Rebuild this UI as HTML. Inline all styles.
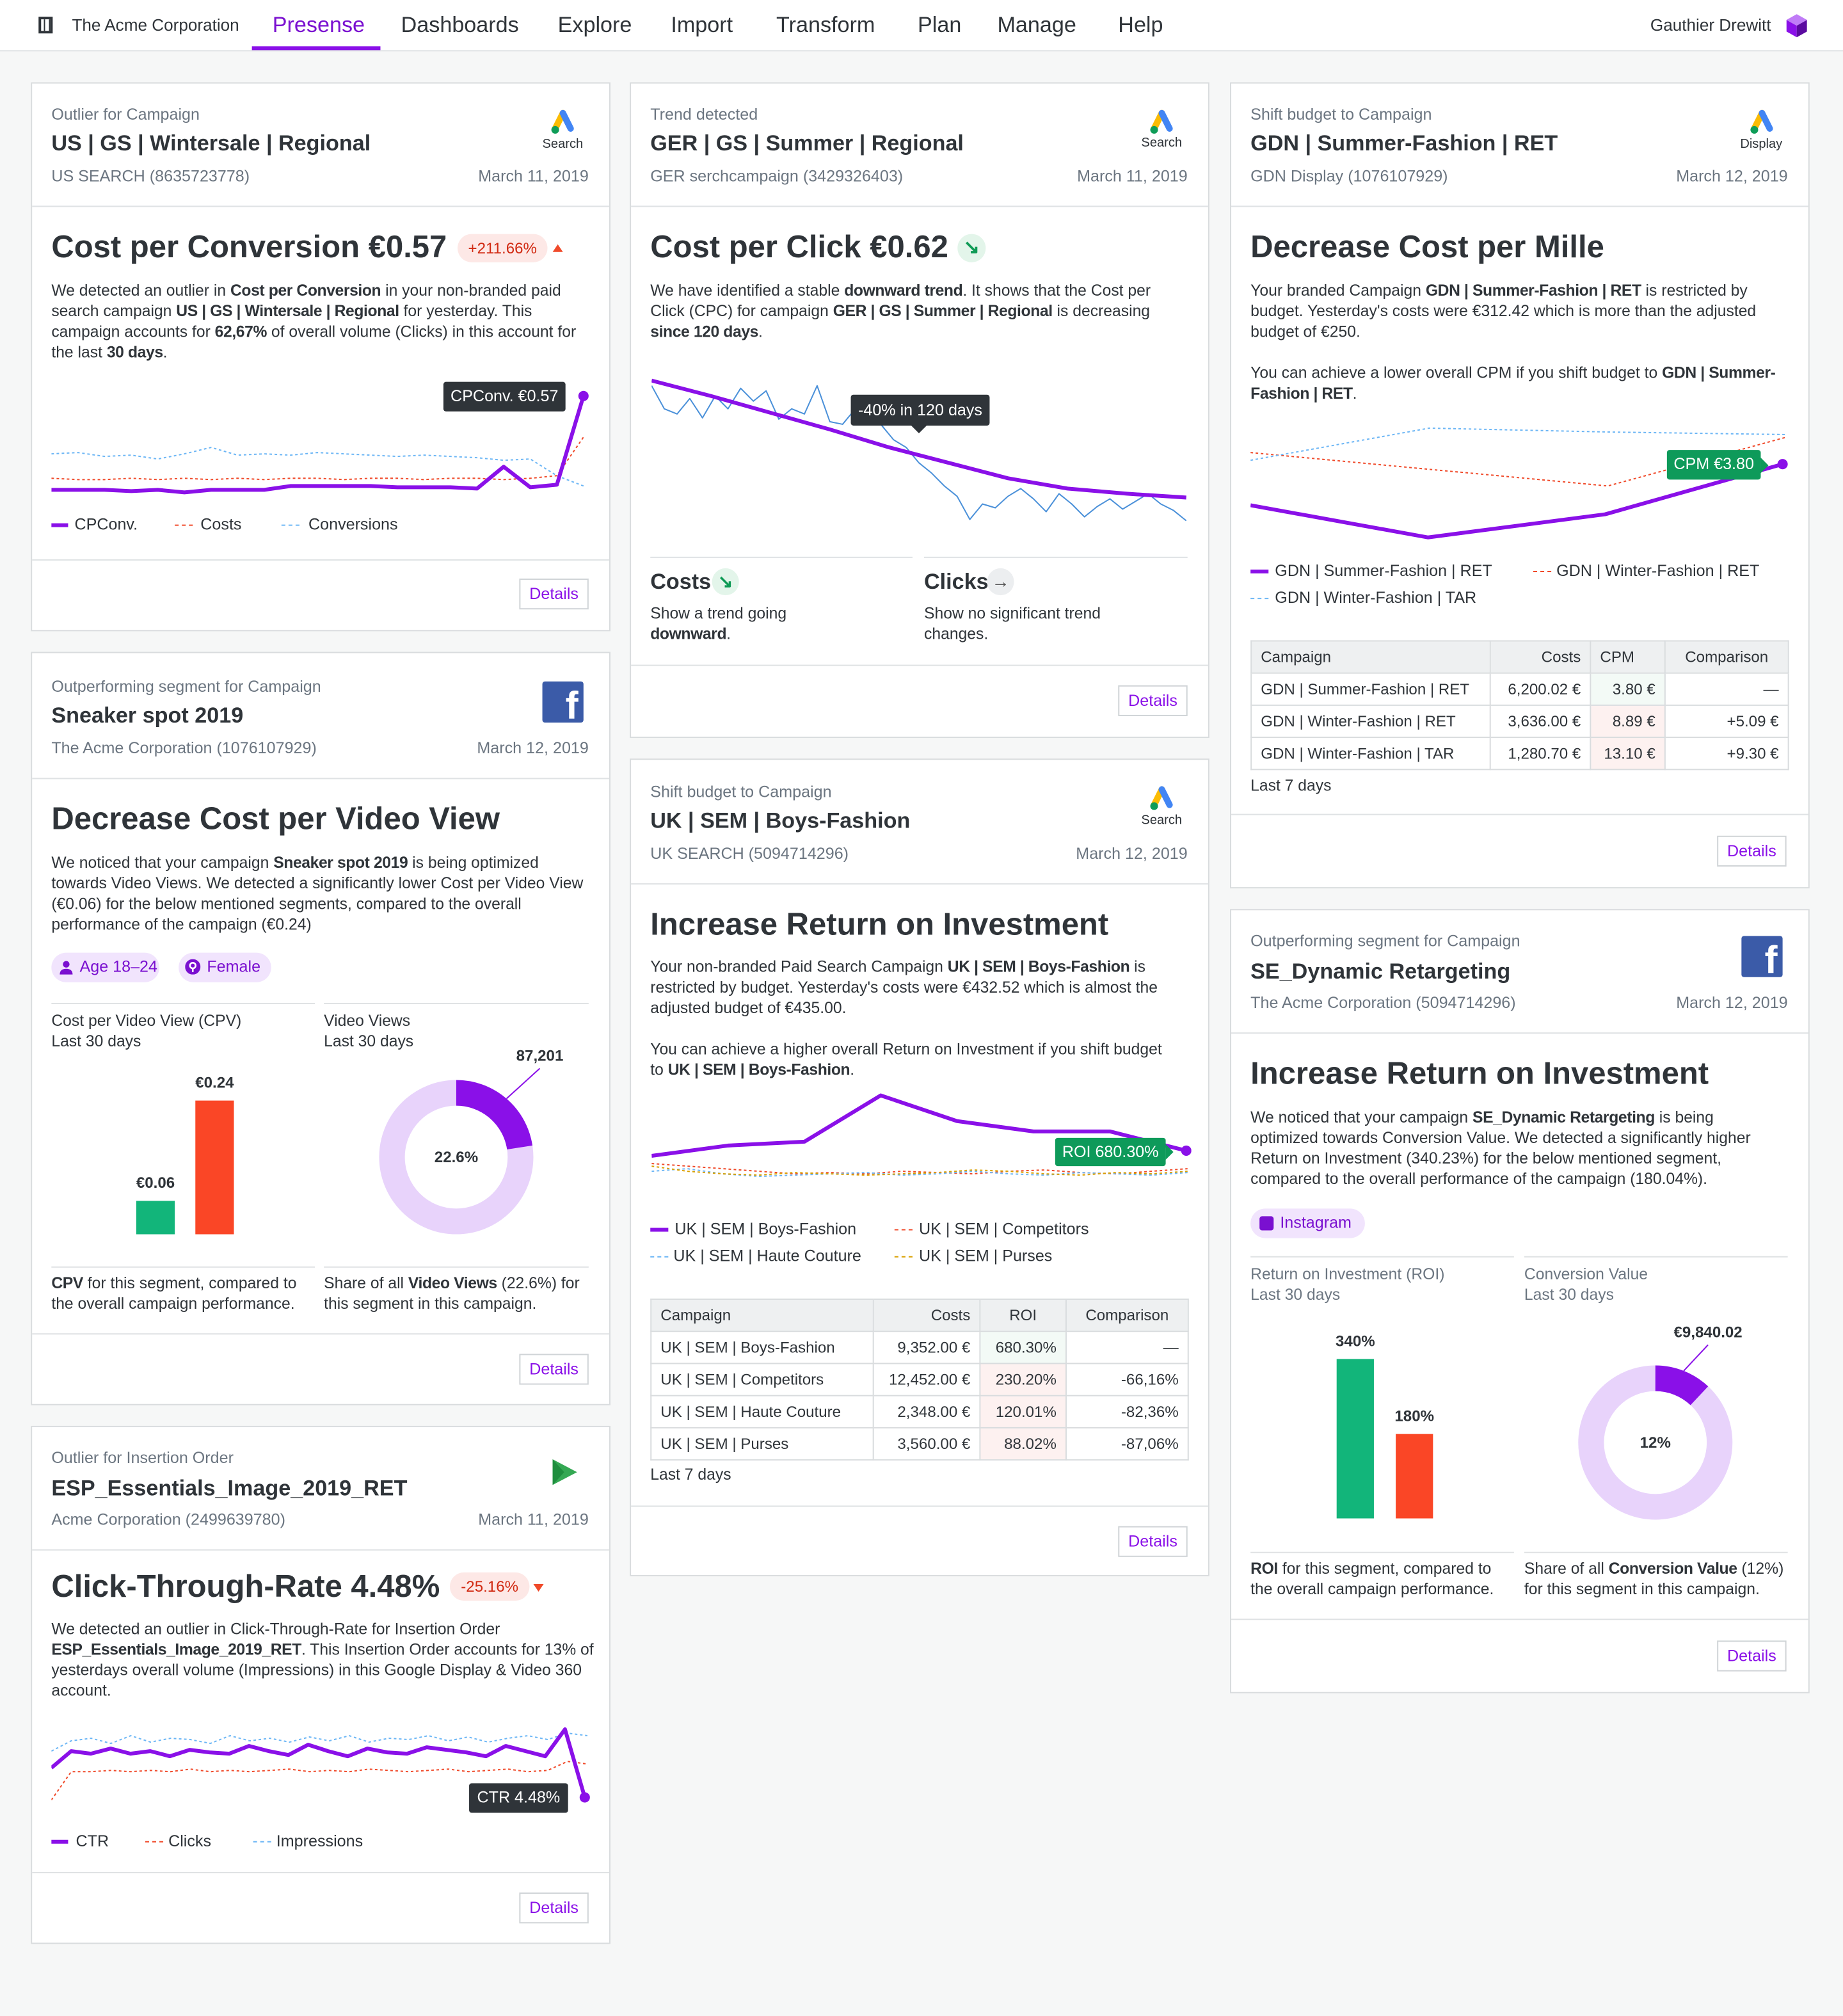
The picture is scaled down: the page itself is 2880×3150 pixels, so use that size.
<!DOCTYPE html>
<html><head><meta charset="utf-8">
<style>
html,body{margin:0;padding:0;background:#f6f7f7;overflow:hidden;width:2880px;height:3150px}
#page{position:absolute;left:0;top:0;width:1434px;height:1568px;transform:scale(2.00837,2.0089);transform-origin:0 0;font-family:"Liberation Sans",sans-serif;color:#2f3439}
#page div,#page span.a{position:absolute;white-space:nowrap}
.card{background:#fff;border:1px solid #d9dcde;box-sizing:border-box}
.hr{height:1px;background:#dfe2e4}
.lbl{font-size:12.5px;color:#6b7580;line-height:16px}
.ttl{font-size:17px;font-weight:bold;color:#2f3439;line-height:20px}
.sub{font-size:12.5px;color:#6b7580;line-height:16px}
.big{font-size:24.4px;font-weight:bold;color:#2f3439;line-height:30px}
.p{font-size:12.3px;color:#2f3439;line-height:16px}
.p b{letter-spacing:-0.2px}
.det{border:1px solid #d0d4d7;color:#8a10e8;font-size:12.5px;line-height:22px;width:54px;text-align:center;box-sizing:border-box;height:24px;background:#fff}
.nav{font-size:17px;line-height:20px;color:#2f3439}
.leg{font-size:12.5px;line-height:16px;color:#2f3439}
.chip{background:#f1e4fd;color:#7a10d0;font-size:12.5px;line-height:23px;height:23px;border-radius:12px;box-sizing:border-box;padding-left:22px}
table{border-collapse:collapse;font-size:12px;color:#2f3439;table-layout:fixed}
td{border:1px solid #d9dcde;height:25px;padding:0 7px;box-sizing:border-box;white-space:nowrap;overflow:hidden}
.hd td{background:#eef0f1}
.r{text-align:right}
.pink{background:#fdf1f0}
.mint{background:#f3faf6}
.badge{background:#fde8e6;color:#d12a12;font-size:12px;line-height:22px;height:22px;border-radius:11px;text-align:center}
</style></head><body>
<div id="page">

<!-- NAV -->
<div style="left:0;top:0;width:1434px;height:39px;background:#fff;border-bottom:1px solid #dfe2e4"></div>
<div style="left:30px;top:13px;width:11px;height:13px;border:2px solid #2f3439;box-sizing:border-box;background:repeating-linear-gradient(90deg,#fff 0 2px,#2f3439 2px 3px,#fff 3px 4px)"></div>
<div class="leg" style="left:56px;top:12px;font-size:13px">The Acme Corporation</div>
<div class="nav" style="left:212px;top:10px;color:#7a10d0">Presense</div>
<div style="left:196px;top:36px;width:100px;height:3px;background:#8a10e8"></div>
<div class="nav" style="left:312px;top:10px">Dashboards</div>
<div class="nav" style="left:434px;top:10px">Explore</div>
<div class="nav" style="left:522px;top:10px">Import</div>
<div class="nav" style="left:604px;top:10px">Transform</div>
<div class="nav" style="left:714px;top:10px">Plan</div>
<div class="nav" style="left:776px;top:10px">Manage</div>
<div class="nav" style="left:870px;top:10px">Help</div>
<div class="leg" style="right:56px;top:12px;font-size:13px">Gauthier Drewitt</div>
<svg style="position:absolute;left:1390px;top:11px" width="16" height="18" viewBox="0 0 16 18"><polygon points="8,0 16,4.5 8,9 0,4.5" fill="#c07cf7"/><polygon points="0,4.5 8,9 8,18 0,13.5" fill="#8a10e8"/><polygon points="16,4.5 8,9 8,18 16,13.5" fill="#5b0aa0"/></svg>

<!-- ===== CARD 1 col1 ===== -->
<div class="card" style="left:24px;top:64px;width:451px;height:427px"></div>
<div class="lbl" style="left:40px;top:81px">Outlier for Campaign</div>
<div class="ttl" style="left:40px;top:102px">US | GS | Wintersale | Regional</div>
<div class="sub" style="left:40px;top:129px">US SEARCH (8635723778)</div>
<div class="sub" style="right:976px;top:129px">March 11, 2019</div>
<svg style="position:absolute;left:428px;top:85px" width="20" height="20" viewBox="0 0 20 20"><line x1="10" y1="3" x2="4" y2="15" stroke="#fbbc04" stroke-width="5" stroke-linecap="round"/><line x1="10" y1="3" x2="16" y2="15" stroke="#4285f4" stroke-width="5" stroke-linecap="round"/><circle cx="4" cy="16" r="3" fill="#0f9d58"/></svg>
<div class="leg" style="left:422px;top:105px;font-size:10px">Search</div>
<div class="hr" style="left:25px;top:160px;width:449px"></div>
<div class="big" style="left:40px;top:178px">Cost per Conversion €0.57</div>
<div class="badge" style="left:356px;top:182px;width:70px">+211.66%</div>
<div style="left:430px;top:190px;width:0;height:0;border-left:4px solid transparent;border-right:4px solid transparent;border-bottom:6px solid #f04a2a"></div>
<div class="p" style="left:40px;top:218px">We detected an outlier in <b>Cost per Conversion</b> in your non-branded paid<br>search campaign <b>US | GS | Wintersale | Regional</b> for yesterday. This<br>campaign accounts for <b>62,67%</b> of overall volume (Clicks) in this account for<br>the last <b>30 days</b>.</div>
<svg id="chartA" style="position:absolute;left:40px;top:290px" width="420" height="100"></svg>
<div style="left:345px;top:297px;width:95px;height:23px;background:#2f3439;color:#fff;font-size:12.5px;line-height:23px;text-align:center;border-radius:2px">CPConv. €0.57</div>
<div style="left:40px;top:407px;width:13px;height:3px;background:#8a10e8"></div>
<div class="leg" style="left:58px;top:400px">CPConv.</div>
<div style="left:136px;top:408px;width:14px;border-top:1px dashed #f04a2a"></div>
<div class="leg" style="left:156px;top:400px">Costs</div>
<div style="left:219px;top:408px;width:14px;border-top:1px dashed #6cb6f5"></div>
<div class="leg" style="left:240px;top:400px">Conversions</div>
<div class="hr" style="left:25px;top:435px;width:449px"></div>
<div class="det" style="left:404px;top:450px">Details</div>

<!-- ===== CARD 2 col1 ===== -->
<div class="card" style="left:24px;top:507px;width:451px;height:586px"></div>
<div class="lbl" style="left:40px;top:526px">Outperforming segment for Campaign</div>
<div class="ttl" style="left:40px;top:547px">Sneaker spot 2019</div>
<div class="sub" style="left:40px;top:574px">The Acme Corporation (1076107929)</div>
<div class="sub" style="right:976px;top:574px">March 12, 2019</div>
<div style="left:422px;top:530px;width:32px;height:32px;background:#3b5ba8;border-radius:2px;color:#fff;font-weight:bold;font-size:30px;line-height:40px;text-align:right;overflow:hidden"><span style="margin-right:4px">f</span></div>
<div class="hr" style="left:25px;top:605px;width:449px"></div>
<div class="big" style="left:40px;top:623px">Decrease Cost per Video View</div>
<div class="p" style="left:40px;top:663px">We noticed that your campaign <b>Sneaker spot 2019</b> is being optimized<br>towards Video Views. We detected a significantly lower Cost per Video View<br>(€0.06) for the below mentioned segments, compared to the overall<br>performance of the campaign (€0.24)</div>
<div class="chip" style="left:40px;top:741px;width:84px">Age 18–24</div>
<svg style="position:absolute;left:46px;top:747px" width="11" height="11" viewBox="0 0 11 11"><circle cx="5.5" cy="3" r="2.6" fill="#7a10d0"/><path d="M0.5 11 Q0.5 6.5 5.5 6.5 Q10.5 6.5 10.5 11Z" fill="#7a10d0"/></svg>
<div class="chip" style="left:139px;top:741px;width:72px">Female</div>
<svg style="position:absolute;left:144px;top:746px" width="12" height="12" viewBox="0 0 12 12"><circle cx="6" cy="6" r="6" fill="#7a10d0"/><circle cx="6" cy="5" r="2.2" fill="none" stroke="#fff" stroke-width="1.3"/><line x1="6" y1="7" x2="6" y2="10" stroke="#fff" stroke-width="1.3"/></svg>
<div class="hr" style="left:40px;top:780px;width:205px"></div>
<div class="hr" style="left:252px;top:780px;width:206px"></div>
<div class="p" style="left:40px;top:786px">Cost per Video View (CPV)<br>Last 30 days</div>
<div class="p" style="left:252px;top:786px">Video Views<br>Last 30 days</div>
<svg id="barsA" style="position:absolute;left:40px;top:830px" width="205" height="135"></svg>
<svg id="donutA" style="position:absolute;left:252px;top:805px" width="206" height="175"></svg>
<div class="hr" style="left:40px;top:985px;width:205px"></div>
<div class="hr" style="left:252px;top:985px;width:206px"></div>
<div class="p" style="left:40px;top:990px"><b>CPV</b> for this segment, compared to<br>the overall campaign performance.</div>
<div class="p" style="left:252px;top:990px">Share of all <b>Video Views</b> (22.6%) for<br>this segment in this campaign.</div>
<div class="hr" style="left:25px;top:1037px;width:449px"></div>
<div class="det" style="left:404px;top:1053px">Details</div>

<!-- ===== CARD 3 col1 ===== -->
<div class="card" style="left:24px;top:1109px;width:451px;height:403px"></div>
<div class="lbl" style="left:40px;top:1126px">Outlier for Insertion Order</div>
<div class="ttl" style="left:40px;top:1148px">ESP_Essentials_Image_2019_RET</div>
<div class="sub" style="left:40px;top:1174px">Acme Corporation (2499639780)</div>
<div class="sub" style="right:976px;top:1174px">March 11, 2019</div>
<svg style="position:absolute;left:427px;top:1133px" width="24" height="24" viewBox="0 0 24 24"><path d="M3 2 L22 12 L3 22 Z" fill="#34a853"/><path d="M3 2 L12 12 L3 22Z" fill="#1e8e3e"/></svg>
<div class="hr" style="left:25px;top:1205px;width:449px"></div>
<div class="big" style="left:40px;top:1220px">Click-Through-Rate 4.48%</div>
<div class="badge" style="left:350px;top:1223px;width:62px">-25.16%</div>
<div style="left:415px;top:1232px;width:0;height:0;border-left:4px solid transparent;border-right:4px solid transparent;border-top:6px solid #f04a2a"></div>
<div class="p" style="left:40px;top:1259px">We detected an outlier in Click-Through-Rate for Insertion Order<br><b>ESP_Essentials_Image_2019_RET</b>. This Insertion Order accounts for 13% of<br>yesterdays overall volume (Impressions) in this Google Display &amp; Video 360<br>account.</div>
<svg id="chartE" style="position:absolute;left:40px;top:1335px" width="420" height="70"></svg>
<div style="left:365px;top:1387px;width:77px;height:23px;background:#2f3439;color:#fff;font-size:12.5px;line-height:23px;text-align:center;border-radius:2px">CTR 4.48%</div>
<div style="left:40px;top:1431px;width:13px;height:3px;background:#8a10e8"></div>
<div class="leg" style="left:59px;top:1424px">CTR</div>
<div style="left:113px;top:1432px;width:14px;border-top:1px dashed #f04a2a"></div>
<div class="leg" style="left:131px;top:1424px">Clicks</div>
<div style="left:197px;top:1432px;width:14px;border-top:1px dashed #6cb6f5"></div>
<div class="leg" style="left:215px;top:1424px">Impressions</div>
<div class="hr" style="left:25px;top:1456px;width:449px"></div>
<div class="det" style="left:404px;top:1472px">Details</div>

<!-- ===== CARD 1 col2 ===== -->
<div class="card" style="left:490px;top:64px;width:451px;height:510px"></div>
<div class="lbl" style="left:506px;top:81px">Trend detected</div>
<div class="ttl" style="left:506px;top:102px">GER | GS | Summer | Regional</div>
<div class="sub" style="left:506px;top:129px">GER serchcampaign (3429326403)</div>
<div class="sub" style="right:510px;top:129px">March 11, 2019</div>
<svg style="position:absolute;left:894px;top:85px" width="20" height="20" viewBox="0 0 20 20"><line x1="10" y1="3" x2="4" y2="15" stroke="#fbbc04" stroke-width="5" stroke-linecap="round"/><line x1="10" y1="3" x2="16" y2="15" stroke="#4285f4" stroke-width="5" stroke-linecap="round"/><circle cx="4" cy="16" r="3" fill="#0f9d58"/></svg>
<div class="leg" style="left:888px;top:104px;font-size:10px">Search</div>
<div class="hr" style="left:491px;top:160px;width:449px"></div>
<div class="big" style="left:506px;top:178px">Cost per Click €0.62</div>
<div style="left:745px;top:182px;width:22px;height:22px;border-radius:11px;background:#e3f5ea;color:#0e9a55;font-size:15px;line-height:22px;text-align:center;font-weight:bold">↘</div>
<div class="p" style="left:506px;top:218px">We have identified a stable <b>downward trend</b>. It shows that the Cost per<br>Click (CPC) for campaign <b>GER | GS | Summer | Regional</b> is decreasing<br><b>since 120 days</b>.</div>
<svg id="chartB" style="position:absolute;left:507px;top:290px" width="420" height="125"></svg>
<div style="left:662px;top:307px;width:108px;height:24px;background:#2f3439;color:#fff;font-size:12.5px;line-height:24px;text-align:center;border-radius:2px">-40% in 120 days</div>
<div style="left:709px;top:331px;width:0;height:0;border-left:6px solid transparent;border-right:6px solid transparent;border-top:6px solid #2f3439"></div>
<div class="hr" style="left:506px;top:433px;width:204px"></div>
<div class="hr" style="left:719px;top:433px;width:205px"></div>
<div class="ttl" style="left:506px;top:443px">Costs</div>
<div style="left:554px;top:442px;width:21px;height:21px;border-radius:11px;background:#e3f5ea;color:#0e9a55;font-size:14px;line-height:21px;text-align:center;font-weight:bold">↘</div>
<div class="p" style="left:506px;top:469px">Show a trend going<br><b>downward</b>.</div>
<div class="ttl" style="left:719px;top:443px">Clicks</div>
<div style="left:768px;top:442px;width:21px;height:21px;border-radius:11px;background:#eceef0;color:#555;font-size:14px;line-height:21px;text-align:center;font-weight:bold">→</div>
<div class="p" style="left:719px;top:469px">Show no significant trend<br>changes.</div>
<div class="hr" style="left:491px;top:517px;width:449px"></div>
<div class="det" style="left:870px;top:533px">Details</div>

<!-- ===== CARD 2 col2 ===== -->
<div class="card" style="left:490px;top:590px;width:451px;height:636px"></div>
<div class="lbl" style="left:506px;top:608px">Shift budget to Campaign</div>
<div class="ttl" style="left:506px;top:629px">UK | SEM | Boys-Fashion</div>
<div class="sub" style="left:506px;top:656px">UK SEARCH (5094714296)</div>
<div class="sub" style="right:510px;top:656px">March 12, 2019</div>
<svg style="position:absolute;left:894px;top:611px" width="20" height="20" viewBox="0 0 20 20"><line x1="10" y1="3" x2="4" y2="15" stroke="#fbbc04" stroke-width="5" stroke-linecap="round"/><line x1="10" y1="3" x2="16" y2="15" stroke="#4285f4" stroke-width="5" stroke-linecap="round"/><circle cx="4" cy="16" r="3" fill="#0f9d58"/></svg>
<div class="leg" style="left:888px;top:631px;font-size:10px">Search</div>
<div class="hr" style="left:491px;top:687px;width:449px"></div>
<div class="big" style="left:506px;top:705px">Increase Return on Investment</div>
<div class="p" style="left:506px;top:744px">Your non-branded Paid Search Campaign <b>UK | SEM | Boys-Fashion</b> is<br>restricted by budget. Yesterday's costs were €432.52 which is almost the<br>adjusted budget of €435.00.<br><br>You can achieve a higher overall Return on Investment if you shift budget<br>to <b>UK | SEM | Boys-Fashion</b>.</div>
<svg id="chartD" style="position:absolute;left:507px;top:845px" width="420" height="80"></svg>
<div style="left:821px;top:885px;width:86px;height:22px;background:#0e9a5a;color:#fff;font-size:12.5px;line-height:22px;text-align:center;border-radius:2px">ROI 680.30%</div>
<div style="left:907px;top:890px;width:0;height:0;border-top:6px solid transparent;border-bottom:6px solid transparent;border-left:6px solid #0e9a5a"></div>
<div style="left:506px;top:955px;width:14px;height:3px;background:#8a10e8"></div>
<div class="leg" style="left:525px;top:948px">UK | SEM | Boys-Fashion</div>
<div style="left:696px;top:956px;width:14px;border-top:1px dashed #f04a2a"></div>
<div class="leg" style="left:715px;top:948px">UK | SEM | Competitors</div>
<div style="left:506px;top:977px;width:14px;border-top:1px dashed #6cb6f5"></div>
<div class="leg" style="left:524px;top:969px">UK | SEM | Haute Couture</div>
<div style="left:696px;top:977px;width:14px;border-top:1px dashed #d9a000"></div>
<div class="leg" style="left:715px;top:969px">UK | SEM | Purses</div>
<table style="position:absolute;left:506px;top:1010px;width:418px">
<colgroup><col style="width:173px"><col style="width:83px"><col style="width:67px"><col style="width:95px"></colgroup>
<tr class="hd"><td>Campaign</td><td class="r">Costs</td><td style="text-align:center">ROI</td><td style="text-align:center">Comparison</td></tr>
<tr><td>UK | SEM | Boys-Fashion</td><td class="r">9,352.00 €</td><td class="mint r">680.30%</td><td class="r">—</td></tr>
<tr><td>UK | SEM | Competitors</td><td class="r">12,452.00 €</td><td class="pink r">230.20%</td><td class="r">-66,16%</td></tr>
<tr><td>UK | SEM | Haute Couture</td><td class="r">2,348.00 €</td><td class="pink r">120.01%</td><td class="r">-82,36%</td></tr>
<tr><td>UK | SEM | Purses</td><td class="r">3,560.00 €</td><td class="pink r">88.02%</td><td class="r">-87,06%</td></tr>
</table>
<div class="p" style="left:506px;top:1139px">Last 7 days</div>
<div class="hr" style="left:491px;top:1171px;width:449px"></div>
<div class="det" style="left:870px;top:1187px">Details</div>

<!-- ===== CARD 1 col3 ===== -->
<div class="card" style="left:957px;top:64px;width:451px;height:627px"></div>
<div class="lbl" style="left:973px;top:81px">Shift budget to Campaign</div>
<div class="ttl" style="left:973px;top:102px">GDN | Summer-Fashion | RET</div>
<div class="sub" style="left:973px;top:129px">GDN Display (1076107929)</div>
<div class="sub" style="right:43px;top:129px">March 12, 2019</div>
<svg style="position:absolute;left:1361px;top:85px" width="20" height="20" viewBox="0 0 20 20"><line x1="10" y1="3" x2="4" y2="15" stroke="#fbbc04" stroke-width="5" stroke-linecap="round"/><line x1="10" y1="3" x2="16" y2="15" stroke="#4285f4" stroke-width="5" stroke-linecap="round"/><circle cx="4" cy="16" r="3" fill="#0f9d58"/></svg>
<div class="leg" style="left:1354px;top:105px;font-size:10px">Display</div>
<div class="hr" style="left:958px;top:160px;width:449px"></div>
<div class="big" style="left:973px;top:178px">Decrease Cost per Mille</div>
<div class="p" style="left:973px;top:218px">Your branded Campaign <b>GDN | Summer-Fashion | RET</b> is restricted by<br>budget. Yesterday's costs were €312.42 which is more than the adjusted<br>budget of €250.<br><br>You can achieve a lower overall CPM if you shift budget to <b>GDN | Summer-</b><br><b>Fashion | RET</b>.</div>
<svg id="chartC" style="position:absolute;left:973px;top:325px" width="420" height="100"></svg>
<div style="left:1297px;top:350px;width:73px;height:23px;background:#0e9a5a;color:#fff;font-size:12.5px;line-height:23px;text-align:center;border-radius:2px">CPM €3.80</div>
<div style="left:1370px;top:356px;width:0;height:0;border-top:6px solid transparent;border-bottom:6px solid transparent;border-left:6px solid #0e9a5a"></div>
<div style="left:973px;top:443px;width:14px;height:3px;background:#8a10e8"></div>
<div class="leg" style="left:992px;top:436px">GDN | Summer-Fashion | RET</div>
<div style="left:1193px;top:444px;width:14px;border-top:1px dashed #f04a2a"></div>
<div class="leg" style="left:1211px;top:436px">GDN | Winter-Fashion | RET</div>
<div style="left:973px;top:465px;width:14px;border-top:1px dashed #6cb6f5"></div>
<div class="leg" style="left:992px;top:457px">GDN | Winter-Fashion | TAR</div>
<table style="position:absolute;left:973px;top:498px;width:418px">
<colgroup><col style="width:186px"><col style="width:78px"><col style="width:58px"><col style="width:96px"></colgroup>
<tr class="hd"><td>Campaign</td><td class="r">Costs</td><td>CPM</td><td style="text-align:center">Comparison</td></tr>
<tr><td>GDN | Summer-Fashion | RET</td><td class="r">6,200.02 €</td><td class="mint r">3.80 €</td><td class="r">—</td></tr>
<tr><td>GDN | Winter-Fashion | RET</td><td class="r">3,636.00 €</td><td class="pink r">8.89 €</td><td class="r">+5.09 €</td></tr>
<tr><td>GDN | Winter-Fashion | TAR</td><td class="r">1,280.70 €</td><td class="pink r">13.10 €</td><td class="r">+9.30 €</td></tr>
</table>
<div class="p" style="left:973px;top:603px">Last 7 days</div>
<div class="hr" style="left:958px;top:633px;width:449px"></div>
<div class="det" style="left:1336px;top:650px">Details</div>

<!-- ===== CARD 2 col3 ===== -->
<div class="card" style="left:957px;top:707px;width:451px;height:610px"></div>
<div class="lbl" style="left:973px;top:724px">Outperforming segment for Campaign</div>
<div class="ttl" style="left:973px;top:746px">SE_Dynamic Retargeting</div>
<div class="sub" style="left:973px;top:772px">The Acme Corporation (5094714296)</div>
<div class="sub" style="right:43px;top:772px">March 12, 2019</div>
<div style="left:1355px;top:728px;width:32px;height:32px;background:#3b5ba8;border-radius:2px;color:#fff;font-weight:bold;font-size:30px;line-height:40px;text-align:right;overflow:hidden"><span style="margin-right:4px">f</span></div>
<div class="hr" style="left:958px;top:803px;width:449px"></div>
<div class="big" style="left:973px;top:821px">Increase Return on Investment</div>
<div class="p" style="left:973px;top:861px">We noticed that your campaign <b>SE_Dynamic Retargeting</b> is being<br>optimized towards Conversion Value. We detected a significantly higher<br>Return on Investment (340.23%) for the below mentioned segment,<br>compared to the overall performance of the campaign (180.04%).</div>
<div class="chip" style="left:973px;top:940px;width:89px;padding-left:23px">Instagram</div>
<div style="left:980px;top:946px;width:11px;height:11px;background:#7a10d0;border-radius:2px"></div>
<div class="hr" style="left:973px;top:977px;width:205px"></div>
<div class="hr" style="left:1186px;top:977px;width:205px"></div>
<div class="p" style="left:973px;top:983px;color:#6b7580">Return on Investment (ROI)<br>Last 30 days</div>
<div class="p" style="left:1186px;top:983px;color:#6b7580">Conversion Value<br>Last 30 days</div>
<svg id="barsB" style="position:absolute;left:973px;top:1030px" width="205" height="155"></svg>
<svg id="donutB" style="position:absolute;left:1186px;top:1025px" width="206" height="170"></svg>
<div class="hr" style="left:973px;top:1207px;width:205px"></div>
<div class="hr" style="left:1186px;top:1207px;width:205px"></div>
<div class="p" style="left:973px;top:1212px"><b>ROI</b> for this segment, compared to<br>the overall campaign performance.</div>
<div class="p" style="left:1186px;top:1212px">Share of all <b>Conversion Value</b> (12%)<br>for this segment in this campaign.</div>
<div class="hr" style="left:958px;top:1259px;width:449px"></div>
<div class="det" style="left:1336px;top:1276px">Details</div>

</div>
<script>
// ---- chart A: CPConv (index values, higher = up)
const cpconvValues=[9,9,9,8,9,7,9,9,9,12,12,12,12,11,11,11,10,27,11,13,82];
const costsValues=[18,17,17,18,17,18,17,18,17,18,18,17,18,18,17,18,18,17,18,20,50];
const conversionsValues=[37,38,35,36,33,37,42,36,37,36,38,37,36,35,36,35,34,32,33,20,12];
// ---- chart B: CPC trend
const cpcDaily=[110,92,88,100,85,102,92,108,98,106,84,92,88,110,82,80,92,84,80,68,62,50,42,32,24,6,18,15,24,30,22,12,26,18,8,16,22,14,20,26,18,13,5];
const cpcTrend=[114,102,89,76,62,50,38,30,26,23];
// ---- chart C: CPM
const cpmSummerRet=[32,7,25,64];
const cpmWinterRet=[73,60,47,85];
const cpmWinterTar=[67,92,89,87];
// ---- chart D: ROI
const roiBoys=[26,34,37,73,53,45,45,30];
const roiCompetitors=[20,18,16,14,12,13,12,14,13,12,14,15,13,12,14,16];
const roiHaute=[14,16,12,10,11,12,13,11,12,14,12,11,13,12,11,13];
const roiPurses=[18,14,12,11,13,12,11,12,13,15,14,12,11,13,12,14];
// ---- chart E: CTR
const ctrValues=[30,43,41,45,41,43,39,44,42,41,47,43,40,48,43,39,45,42,41,46,44,42,39,47,43,39,60,7];
const clicksValues=[5,27,27,28,27,28,27,29,27,28,27,28,29,27,28,27,29,28,27,28,29,27,28,29,27,28,35,33];
const impressionsValues=[43,51,53,49,55,50,53,52,49,55,51,53,50,54,51,55,50,53,52,55,51,54,50,53,55,52,57,55];
// ---- bars and donuts
const cpvLabels=["€0.06","€0.24"];
const cpvValues=[0.06,0.24];
const roiBarLabels=["340%","180%"];
const roiBarValues=[340,180];
const videoShare=[22.6];
const videoViewsLabel=["87,201"];
const convShare=[12];
const convValueLabel=["€9,840.02"];

const NS="http://www.w3.org/2000/svg";
function mk(svg,tag,attrs){const e=document.createElementNS(NS,tag);for(const k in attrs)e.setAttribute(k,attrs[k]);svg.appendChild(e);return e;}
function xS(i,n,x0,x1){return x0+(x1-x0)*i/(n-1);}
function yS(v,max,h){return h-v*h/max;}
function line(svgId,vals,x0,x1,max,h,color,width,dash,name){
  const svg=document.getElementById(svgId);
  let d="";
  vals.forEach((v,i)=>{d+=(i?"L":"M")+xS(i,vals.length,x0,x1).toFixed(1)+" "+yS(v,max,h).toFixed(1);});
  const p=mk(svg,"path",{d:d,fill:"none",stroke:color,"stroke-width":width,"stroke-linejoin":"round"});
  if(dash)p.setAttribute("stroke-dasharray",dash);
  
  
  return svg;
}
function dot(svgId,vals,x0,x1,max,h,name){
  const svg=document.getElementById(svgId);
  const n=vals.length;
  const c=mk(svg,"circle",{cx:xS(n-1,n,x0,x1),cy:yS(vals[n-1],max,h),r:4,fill:"#8a10e8"});
  
  
}
const PUR="#8a10e8",RED="#f04a2a",BLU="#6cb6f5",ORG="#d9a000";
line("chartA",costsValues,0,414,100,100,RED,1,"2 2","costs-line");
line("chartA",conversionsValues,0,414,100,100,BLU,1,"2 2","conversions-line");
line("chartA",cpconvValues,0,414,100,100,PUR,3,null,"cpconv-line");
dot("chartA",cpconvValues,0,414,100,100,"cpconv-last-point");
line("chartB",cpcDaily,0,416,120,120,"#4a90d9",1,null,"cpc-daily-line");
line("chartB",cpcTrend,0,416,120,120,PUR,3,null,"cpc-trend-line");
line("chartC",cpmWinterRet,0,417,100,100,RED,1,"2 2","winter-ret-line");
line("chartC",cpmWinterTar,0,417,100,100,BLU,1,"2 2","winter-tar-line");
line("chartC",cpmSummerRet,0,414,100,100,PUR,3,null,"summer-ret-line");
dot("chartC",cpmSummerRet,0,414,100,100,"cpm-last-point");
line("chartD",roiCompetitors,0,417,80,80,RED,1,"2 2","competitors-line");
line("chartD",roiHaute,0,417,80,80,BLU,1,"2 2","haute-couture-line");
line("chartD",roiPurses,0,417,80,80,ORG,1,"2 2","purses-line");
line("chartD",roiBoys,0,416,80,80,PUR,3,null,"boys-fashion-line");
dot("chartD",roiBoys,0,416,80,80,"roi-last-point");
line("chartE",clicksValues,0,417,70,70,RED,1,"2 2","clicks-line");
line("chartE",impressionsValues,0,417,70,70,BLU,1,"2 2","impressions-line");
line("chartE",ctrValues,0,415,70,70,PUR,3,null,"ctr-line");
dot("chartE",ctrValues,0,415,70,70,"ctr-last-point");

function bars(svgId,vals,labels,xs,bw,base,maxH,maxV,colors,prefix){
  const svg=document.getElementById(svgId);
  vals.forEach((v,i)=>{
    const h=v/maxV*maxH;
    const r=mk(svg,"rect",{x:xs[i],y:base-h,width:bw,height:h,fill:colors[i]});
    
    
    const t=mk(svg,"text",{x:xs[i]+bw/2,y:base-h-10,"text-anchor":"middle","font-size":"12","font-weight":"bold",fill:"#2f3439","font-family":"Liberation Sans, sans-serif"});
    t.textContent=labels[i];
    
    
  });
}
bars("barsA",cpvValues,cpvLabels,[66,112],30,130,104,0.24,["#12b57a","#fa4626"],"cpv");
bars("barsB",roiBarValues,roiBarLabels,[67,113],29,151,124,340,["#12b57a","#fa4626"],"roi");

function donut(svgId,cx,cy,pct,label,valueLabel,lx,ly){
  const svg=document.getElementById(svgId);
  const r=50;
  const bg=mk(svg,"circle",{cx:cx,cy:cy,r:r,fill:"none",stroke:"#e8d3fb","stroke-width":20});
  
  
  const a=pct/100*2*Math.PI;
  const x1=cx,y1=cy-r,x2=cx+r*Math.sin(a),y2=cy-r*Math.cos(a);
  const arc=mk(svg,"path",{d:`M${x1} ${y1} A${r} ${r} 0 ${pct>50?1:0} 1 ${x2.toFixed(1)} ${y2.toFixed(1)}`,fill:"none",stroke:PUR,"stroke-width":20});
  
  
  const mid=a/2,ox=cx+(r+10)*Math.sin(mid),oy=cy-(r+10)*Math.cos(mid);
  const ld=mk(svg,"line",{x1:ox,y1:oy,x2:lx,y2:ly+6,stroke:PUR,"stroke-width":1});
  
  
  const c=mk(svg,"text",{x:cx,y:cy+4,"text-anchor":"middle","font-size":"12","font-weight":"bold",fill:"#2f3439","font-family":"Liberation Sans, sans-serif"});
  c.textContent=label;
  
  
  const v=mk(svg,"text",{x:lx,y:ly,"text-anchor":"middle","font-size":"12","font-weight":"bold",fill:"#2f3439","font-family":"Liberation Sans, sans-serif"});
  v.textContent=valueLabel;
  
  
}
donut("donutA",103,95,videoShare[0],videoShare[0]+"%",videoViewsLabel[0],168,20);
donut("donutB",102,97,convShare[0],convShare[0]+"%",convValueLabel[0],143,15);
</script>
</body></html>
